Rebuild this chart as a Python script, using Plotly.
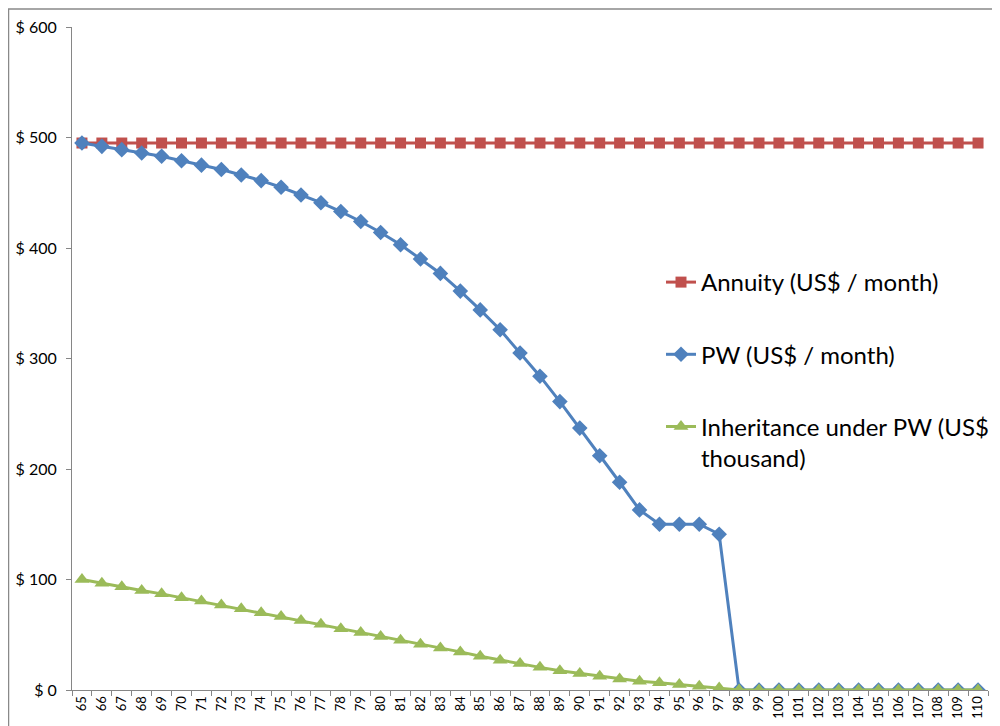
import plotly.graph_objects as go

ages = [str(a) for a in range(65, 111)]

annuity = [495] * 46

pw = [495, 492, 489, 486, 483, 479, 475, 471, 466, 461, 455, 448, 441, 433, 424,
      414, 403, 390, 377, 361, 344, 326, 305, 284, 261, 237, 212, 188, 163, 150,
      150, 150, 141] + [0] * 13

inheritance = [100, 96.5, 93.5, 90, 87, 83.5, 80.5, 77, 73.5, 70, 66.5, 63, 59.5,
               55.5, 52, 48.5, 45, 41.5, 38, 34.5, 30.5, 27, 24, 20.5, 17.5, 15,
               12.5, 10, 8, 6.5, 5, 3.3, 1.8] + [0] * 13

names = ["Annuity (US$ / month)", "PW (US$ / month)",
         "Inheritance under PW (US$<br>thousand)"]

RED = "#C0504D"
BLUE = "#4F81BD"
GREEN = "#9BBB59"
FONT = "Lato"

fig = go.Figure()
fig.add_trace(go.Scatter(x=ages, y=annuity, name=names[0], mode="lines+markers",
                         line=dict(color=RED, width=3),
                         marker=dict(symbol="square", size=11, color=RED),
                         legendgroup="a"))
fig.add_trace(go.Scatter(x=ages, y=pw, name=names[1], mode="lines+markers",
                         line=dict(color=BLUE, width=3),
                         marker=dict(symbol="diamond", size=12, color=BLUE),
                         legendgroup="b"))
fig.add_trace(go.Scatter(x=ages, y=inheritance, name=names[2], mode="lines+markers",
                         line=dict(color=GREEN, width=3),
                         marker=dict(symbol="triangle-up", size=13, color=GREEN),
                         legendgroup="c"))

# page has an 8px body margin; figure occupies page x 8..1000, y 8..726
OFF = 8
W, H = 1000 - OFF, 726 - OFF
# desired plot area in page coordinates: x 72..988, y 27..690
L, R, T, B = 72 - OFF, 1000 - 988, 27 - OFF, 726 - 690
pw_ = W - L - R
ph_ = H - T - B


def px(x):  # page x -> paper
    return (x - OFF - L) / pw_


def py(y):  # page y -> paper
    return (H - B - (y - OFF)) / ph_


fig.update_layout(
    width=W, height=H,
    margin=dict(l=L, r=R, t=T, b=B, autoexpand=False),
    plot_bgcolor="white", paper_bgcolor="white",
    font=dict(family=FONT, color="#000000"),
    showlegend=True,
    legend=dict(x=px(661), y=py(260), xanchor="left", yanchor="top",
                font=dict(family=FONT, size=24, color="#000000"),
                tracegroupgap=38, valign="top", bgcolor="rgba(0,0,0,0)",
                traceorder="grouped", itemwidth=30),
    xaxis=dict(type="category", showgrid=False, showline=True, linecolor="#868686",
               linewidth=1, ticks="outside", ticklen=5, tickcolor="#868686",
               tickson="boundaries", tickangle=-90, automargin=False,
               tickfont=dict(family=FONT, size=13, color="#000000"),
               range=[-0.5, 45.5], zeroline=False),
    yaxis=dict(range=[0, 600], dtick=100, tick0=0, showgrid=False, showline=True,
               linecolor="#868686", linewidth=1, ticks="outside", ticklen=5,
               tickcolor="#868686", tickprefix="$ ", zeroline=False, automargin=False,
               tickfont=dict(family=FONT, size=16, color="#000000"),
               ticklabelstandoff=6),
    shapes=[dict(type="rect", xref="paper", yref="paper",
                 x0=px(8.5), x1=px(1010), y0=py(745), y1=py(9),
                 line=dict(color="#898989", width=1.5), layer="below")],
)

fig.write_html("out.html")
